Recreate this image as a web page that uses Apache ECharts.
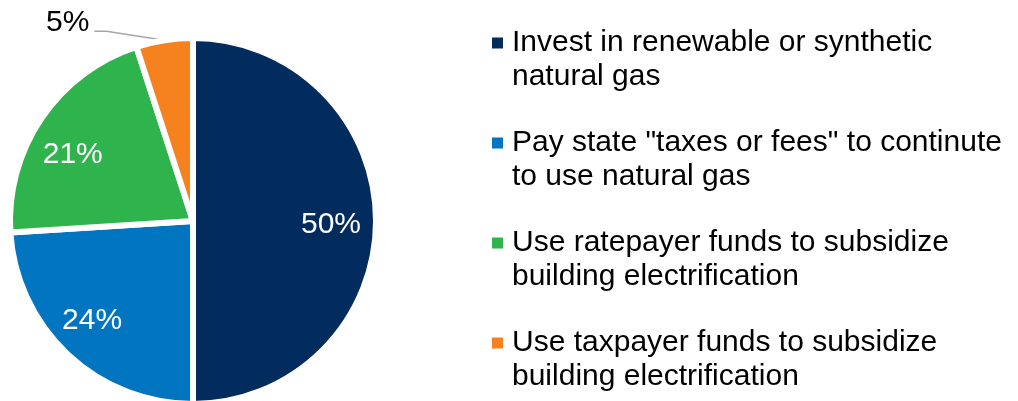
<!DOCTYPE html>
<html>
<head>
<meta charset="utf-8">
<script src="https://cdn.jsdelivr.net/npm/echarts@6/dist/echarts.min.js"></script>
<style>
html,body{margin:0;padding:0;background:#fff;}
#chart{width:1018px;height:401px;}
</style>
</head>
<body>
<div id="chart"></div>
<script>
var categories = [
  'Invest in renewable or synthetic\nnatural gas',
  'Pay state "taxes or fees" to continute\nto use natural gas',
  'Use ratepayer funds to subsidize\nbuilding electrification',
  'Use taxpayer funds to subsidize\nbuilding electrification'
];
var values = [50, 24, 21, 5];
var colors = ['#022B5E', '#0175BF', '#2FB34D', '#F5821F'];
var outsideLabel = [false, false, false, true];

// small label nudges (layout only) to mimic the original label placement
var labelNudge = [[-5, 4], [-3, -5], [-2, 14], [0, 0]];

var FONT = '"Liberation Sans", Arial, sans-serif';

var mainData = categories.map(function (c, i) {
  return {
    name: c,
    value: values[i],
    itemStyle: { color: colors[i] },
    label: { show: outsideLabel[i] },
    labelLine: { show: outsideLabel[i] }
  };
});
var overlayData = categories.map(function (c, i) {
  return {
    name: c,
    value: values[i],
    label: { show: !outsideLabel[i] }
  };
});

var chart = echarts.init(document.getElementById('chart'), null, { renderer: 'canvas' });
chart.setOption({
  animation: false,
  backgroundColor: '#ffffff',
  legend: {
    orient: 'vertical',
    left: 492,
    top: -8,
    padding: 0,
    itemGap: -2,
    itemWidth: 11,
    itemHeight: 11,
    icon: 'rect',
    selectedMode: false,
    itemStyle: { borderWidth: 0 },
    formatter: function (name) { return '\n' + name; },
    textStyle: {
      fontFamily: FONT,
      fontSize: 30,
      lineHeight: 34,
      color: '#000',
      padding: [0, 0, 0, 4]
    },
    data: categories
  },
  series: [
    {
      type: 'pie',
      center: [193, 221],
      radius: 183,
      startAngle: 90,
      clockwise: true,
      silent: true,
      itemStyle: { borderColor: '#ffffff', borderWidth: 6 },
      label: {
        position: 'outside',
        formatter: '{c}%',
        fontFamily: FONT,
        fontSize: 30,
        color: '#000'
      },
      labelLine: {
        lineStyle: { color: '#A6A6A6', width: 1.5 }
      },
      labelLayout: function (p) {
        if (!outsideLabel[p.dataIndex] || !p.labelLinePoints) return {};
        var s = p.labelLinePoints[0];
        var p1 = [s[0] - 58, s[1] - 9];
        var p2 = [s[0] - 70, s[1] - 9];
        return {
          x: p2[0] - 5,
          y: p2[1] - 9,
          align: 'right',
          verticalAlign: 'middle',
          labelLinePoints: [s, p1, p2]
        };
      },
      data: mainData
    },
    {
      type: 'pie',
      center: [193, 221],
      radius: [99, 181],
      startAngle: 90,
      clockwise: true,
      silent: true,
      itemStyle: { color: 'rgba(0,0,0,0)' },
      label: {
        position: 'inside',
        formatter: '{c}%',
        fontFamily: FONT,
        fontSize: 30,
        color: '#ffffff'
      },
      labelLine: { show: false },
      labelLayout: function (p) {
        var n = labelNudge[p.dataIndex];
        return { dx: n[0], dy: n[1] };
      },
      data: overlayData
    }
  ]
});
</script>
</body>
</html>
